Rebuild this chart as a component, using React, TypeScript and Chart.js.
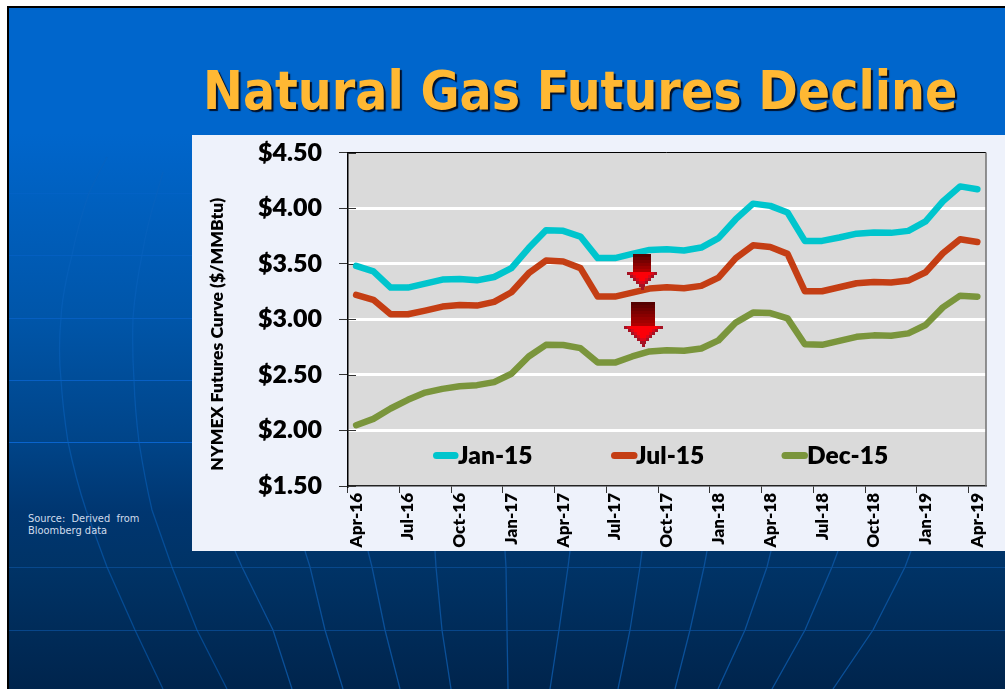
import React, { useEffect, useRef } from "react";
import { Chart, registerables } from "chart.js";

Chart.register(...registerables);

const months = [
  "Apr-16","May-16","Jun-16","Jul-16","Aug-16","Sep-16","Oct-16","Nov-16","Dec-16",
  "Jan-17","Feb-17","Mar-17","Apr-17","May-17","Jun-17","Jul-17","Aug-17","Sep-17","Oct-17","Nov-17","Dec-17",
  "Jan-18","Feb-18","Mar-18","Apr-18","May-18","Jun-18","Jul-18","Aug-18","Sep-18","Oct-18","Nov-18","Dec-18",
  "Jan-19","Feb-19","Mar-19","Apr-19",
];
const jan15 = [
  3.48,3.43,3.285,3.285,3.32,3.357,3.363,3.35,3.38,3.46,3.64,3.80,3.795,3.744,3.55,
  3.55,3.588,3.624,3.63,3.618,3.645,3.73,3.90,4.04,4.02,3.96,3.705,3.705,3.735,3.77,3.78,3.777,3.795,3.88,4.06,4.195,4.17,
];
const jul15 = [
  3.22,3.175,3.045,3.045,3.078,3.114,3.129,3.123,3.156,3.243,3.414,3.528,3.519,3.46,3.204,
  3.204,3.24,3.276,3.288,3.279,3.30,3.375,3.55,3.665,3.65,3.588,3.252,3.252,3.288,3.324,3.336,3.33,3.348,3.423,3.594,3.72,3.695,
];
const dec15 = [
  2.047,2.104,2.197,2.275,2.34,2.374,2.398,2.407,2.434,2.51,2.665,2.77,2.768,2.74,2.61,
  2.61,2.665,2.71,2.722,2.716,2.737,2.81,2.97,3.06,3.056,3.008,2.775,2.77,2.806,2.842,2.855,2.852,2.873,2.948,3.107,3.212,3.203,
];
const seriesNames = ["Jan-15", "Jul-15", "Dec-15"];
const seriesColors = ["#00C5CD", "#C43E14", "#7A953C"];

const TITLE = "Natural Gas Futures Decline";
const Y_TITLE = "NYMEX Futures Curve ($/MMBtu)";
const SOURCE = ["Source:  Derived  from", "Bloomberg data"];

const FONT = "Lato, sans-serif";
const WEIGHT = "800";

// Decorative globe lines of the slide background
const meridians = [
  "M107,157 Q96,178 89,193 Q78,225 72,255 Q62,295 61,318 Q58,350 61,380 Q63,410 68,442 Q76,480 86,510 L107,567 L135,630 L163,689",
  "M163,172 L157,193 Q147,225 142,255 Q135,290 133,318 Q132,350 134,380 Q135,410 139,442 Q145,480 152,510 L172,567 L197,630 L227,689",
  "M235,551 L242,567 L273,630 L292,689",
  "M305,551 L310,567 L325,630 L343,689",
  "M368,551 L372,567 L385,630 L400,689",
  "M435,551 L436,567 L442,630 L451,689",
  "M505,551 L506,567 L507,630 L508,689",
  "M570,551 L568,567 L559,630 L550,689",
  "M642,551 L640,567 L630,630 L618,689",
  "M707,551 L704,567 L690,630 L675,689",
  "M771,551 L767,567 L745,630 L718,689",
  "M838,551 L832,567 L805,630 L772,689",
  "M911,551 L905,567 L873,630 L833,689",
];
const parallelsLeft = [193, 255, 318, 380, 442];
const parallelsFull = [567, 630];

const plotDecor = {
  id: "plotDecor",
  beforeDraw(chart: any) {
    const { ctx, chartArea: a } = chart;
    ctx.save();
    ctx.fillStyle = "#DADADA";
    ctx.fillRect(a.left, a.top, a.right - a.left, a.bottom - a.top);
    ctx.restore();
  },
  beforeDatasetsDraw(chart: any) {
    const { ctx, chartArea: a, scales } = chart;
    ctx.save();
    // short inward tick marks on the value axis
    ctx.strokeStyle = "#333333";
    ctx.lineWidth = 1;
    scales.y.ticks.forEach((t: any) => {
      const y = Math.round(scales.y.getPixelForValue(t.value)) + 0.5;
      ctx.beginPath();
      ctx.moveTo(a.left, y);
      ctx.lineTo(a.left + 8.5, y);
      ctx.stroke();
    });
    // top & right frame
    ctx.strokeStyle = "#000000";
    ctx.beginPath();
    ctx.moveTo(a.left, a.top);
    ctx.lineTo(a.right, a.top);
    ctx.stroke();
    ctx.strokeStyle = "#707070";
    ctx.lineWidth = 1.5;
    ctx.beginPath();
    ctx.moveTo(a.right, a.top);
    ctx.lineTo(a.right, a.bottom);
    ctx.stroke();
    // value axis title
    ctx.translate(223, (a.top + a.bottom) / 2 + 15);
    ctx.rotate(-Math.PI / 2);
    ctx.fillStyle = "#000000";
    ctx.font = `${WEIGHT} 17.5px ${FONT}`;
    ctx.textAlign = "center";
    ctx.textBaseline = "alphabetic";
    ctx.fillText(Y_TITLE, 0, 0);
    ctx.restore();
  },
  afterDatasetsDraw(chart: any) {
    const { ctx, scales } = chart;
    ctx.save();
    // legend
    const items = [
      { a: 436.5, b: 455 },
      { a: 614.5, b: 634 },
      { a: 785, b: 804.5 },
    ];
    const textX = [458, 636, 807];
    chart.data.datasets.forEach((d: any, i: number) => {
      ctx.strokeStyle = d.borderColor;
      ctx.lineWidth = 7;
      ctx.lineCap = "round";
      ctx.beginPath();
      ctx.moveTo(items[i].a, 455.5);
      ctx.lineTo(items[i].b, 455.5);
      ctx.stroke();
      ctx.fillStyle = "#000000";
      ctx.font = `${WEIGHT} 24.5px ${FONT}`;
      ctx.textAlign = "left";
      ctx.textBaseline = "middle";
      ctx.fillText(d.label, textX[i], 456.5);
    });
    // decline arrows
    const arrows = [
      { i: 16.57, v: 3.28, sw: 18, sh: 16, hw: 36, hh: 18 },
      { i: 16.6, v: 2.77, sw: 23, sh: 22, hw: 45, hh: 21 },
    ];
    const cell = 3;
    arrows.forEach((ar) => {
      const cx = Math.round(scales.x.getPixelForValue(ar.i));
      const tip = Math.round(scales.y.getPixelForValue(ar.v));
      const total = ar.sh + ar.hh;
      const top = tip - total;
      for (let y = 0; y < total; y += cell) {
        const inHead = y >= ar.sh;
        const half = inHead ? (ar.hw / 2) * (1 - (y - ar.sh + cell / 2) / ar.hh) : ar.sw / 2;
        const n = Math.max(1, Math.round((half * 2) / cell));
        const t = y / total;
        for (let c = 0; c < n; c++) {
          const xx = Math.round(cx - (n * cell) / 2 + c * cell);
          const outer = c === 0 || c === n - 1;
          let col: string;
          if (!inHead) {
            const r = Math.round(85 + 95 * (t / (ar.sh / total)));
            col = `rgb(${r},0,0)`;
          } else if (outer) {
            col = "rgb(165,18,35)";
          } else if (c === 1 || c === n - 2) {
            col = "rgb(215,8,25)";
          } else {
            col = t > 0.88 ? "rgb(205,10,40)" : "rgb(252,0,8)";
          }
          ctx.fillStyle = col;
          ctx.fillRect(xx, top + y, cell, cell);
        }
      }
    });
    ctx.restore();
  },
};

export default function App() {
  const ref = useRef<HTMLCanvasElement>(null);
  useEffect(() => {
    document.body.style.margin = "0";
    const values = [jan15, jul15, dec15];
    const chart = new Chart(ref.current as HTMLCanvasElement, {
      type: "line",
      data: {
        labels: months,
        datasets: values.map((v, i) => ({
          label: seriesNames[i],
          data: v,
          borderColor: seriesColors[i],
          backgroundColor: seriesColors[i],
          borderWidth: 6.5,
          borderCapStyle: "round",
          borderJoinStyle: "round",
          pointRadius: 0,
          tension: 0,
          fill: false,
        })),
      },
      options: {
        responsive: false,
        animation: false,
        events: [],
        layout: { padding: { left: 209, top: 152.5, right: 19, bottom: 0 } },
        plugins: { legend: { display: false }, tooltip: { enabled: false }, title: { display: false } },
        scales: {
          x: {
            type: "category",
            offset: true,
            afterFit: (s: any) => { s.height = 203; },
            border: { color: "#222222", width: 1.5 },
            grid: {
              offset: true,
              drawOnChartArea: false,
              tickLength: 7,
              tickWidth: 1,
              tickColor: (c: any) => (c.index !== undefined && c.index % 3 === 0 ? "#333333" : "rgba(0,0,0,0)"),
            },
            ticks: {
              autoSkip: false,
              minRotation: 90,
              maxRotation: 90,
              padding: 0,
              color: "#000000",
              font: { family: FONT, weight: WEIGHT, size: 17 },
              callback: (_v: any, i: number) => (i % 3 === 0 ? months[i] : ""),
            },
          },
          y: {
            min: 1.5,
            max: 4.5,
            afterFit: (s: any) => { s.width = 138.5; },
            border: { color: "#000000", width: 1.5 },
            grid: {
              color: (c: any) => (c.tick && c.tick.value > 1.5 && c.tick.value < 4.5 ? "#FFFFFF" : "rgba(0,0,0,0)"),
              lineWidth: 3,
              tickLength: 8.5,
              tickWidth: 1,
              tickColor: "#333333",
            },
            ticks: {
              stepSize: 0.5,
              padding: 17,
              color: "#000000",
              font: { family: FONT, weight: WEIGHT, size: 25 },
              callback: (v: any) => "$" + Number(v).toFixed(2),
            },
          },
        },
      } as any,
      plugins: [plotDecor],
    } as any);
    return () => chart.destroy();
  }, []);

  return (
    <div style={{ position: "absolute", left: 0, top: 0, width: 1005, height: 689, overflow: "hidden", background: "#fff" }}>
      <div
        style={{
          position: "absolute",
          left: 7,
          top: 6,
          width: 1005,
          height: 700,
          boxSizing: "border-box",
          borderLeft: "2px solid #000",
          borderTop: "2px solid #000",
          background:
            "linear-gradient(180deg,#0066CC 0px,#0066CC 125px,#0055A8 314px,#004488 434px,#003670 504px,#003366 561px,#00244C 683px)",
        }}
      />
      <svg width={1005} height={689} style={{ position: "absolute", left: 0, top: 0 }}>
        {parallelsLeft.map((y, i) => (
          <line key={y} x1={9} x2={192} y1={y + 0.5} y2={y + 0.5} stroke="#0A66D2" strokeOpacity={0.25 + i * 0.17} strokeWidth={1} />
        ))}
        {parallelsFull.map((y) => (
          <line key={y} x1={9} x2={1005} y1={y + 0.5} y2={y + 0.5} stroke="#0A4E96" strokeOpacity={0.8} strokeWidth={1} />
        ))}
        {meridians.map((d, i) => (
          <path key={i} d={d} fill="none" stroke={i < 2 ? "#0A62BE" : "#0A5099"} strokeOpacity={i < 2 ? 0.55 : 1} strokeWidth={1.3} />
        ))}
      </svg>
      <div style={{ position: "absolute", left: 192, top: 135, width: 813, height: 416, background: "#EEF2FB" }} />
      <div
        style={{
          position: "absolute",
          left: 203,
          top: 60,
          fontFamily: '"DejaVu Sans", sans-serif',
          fontWeight: "bold",
          fontStretch: "condensed",
          fontSize: 53,
          lineHeight: "62px",
          color: "#FFB833",
          whiteSpace: "nowrap",
          textShadow: "2px 2px 1px #00102a",
        }}
      >
        {TITLE}
      </div>
      <div
        style={{
          position: "absolute",
          left: 28,
          top: 513,
          font: '9.9px/12px "DejaVu Sans", sans-serif',
          color: "#D0DCEC",
          whiteSpace: "pre",
        }}
      >
        {SOURCE.join("\n")}
      </div>
      <canvas ref={ref} width={1005} height={689} style={{ position: "absolute", left: 0, top: 0, width: 1005, height: 689 }} />
    </div>
  );
}
